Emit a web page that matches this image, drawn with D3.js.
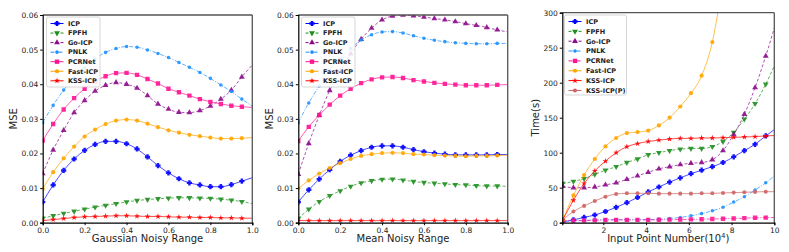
<!DOCTYPE html>
<html><head><meta charset="utf-8">
<script src="https://cdn.jsdelivr.net/npm/d3@7"></script>
<style>body{margin:0;background:#fff;} text{font-family:"DejaVu Sans",sans-serif;}</style>
</head><body><svg id="c" width="789" height="252"></svg>
<script>
// ---------- DATA ----------
const methods = ["ICP","FPFH","Go-ICP","PNLK","PCRNet","Fast-ICP","KSS-ICP"];
const methods3 = ["ICP","FPFH","Go-ICP","PNLK","PCRNet","Fast-ICP","KSS-ICP","KSS-ICP(P)"];
const xNoise = [0,0.05,0.1,0.15,0.2,0.25,0.3,0.35,0.4,0.45,0.5,0.55,0.6,0.65,0.7,0.75,0.8,0.85,0.9,0.95,1.0];
const xPoints = [0.1,0.6,1.1,1.6,2.1,2.6,3.1,3.6,4.1,4.6,5.1,5.6,6.1,6.6,7.1,7.6,8.1,8.6,9.1,9.6,10.0];
const ticksMSE = [0,0.01,0.02,0.03,0.04,0.05,0.06];
const ticksNoise = [0,0.2,0.4,0.6,0.8,1.0];
const ticksTime = [0,50,100,150,200,250,300];
const ticksPoints = [2,4,6,8,10];

// Gaussian noisy range (MSE)
const gICP = [0.006,0.0109,0.0151,0.0184,0.0209,0.0226,0.0235,0.0235,0.0228,0.0213,0.019,0.0165,0.0144,0.0127,0.0115,0.0109,0.0104,0.0104,0.011,0.012,0.013];
const gFPFH = [0.0013,0.002,0.0027,0.0033,0.0039,0.0045,0.005,0.0055,0.006,0.0064,0.0067,0.0069,0.0071,0.0072,0.0072,0.0071,0.007,0.0068,0.0065,0.0061,0.0055];
const gGoICP = [0.0142,0.021,0.0267,0.0318,0.0353,0.038,0.0397,0.0405,0.04,0.0389,0.0367,0.0343,0.0328,0.0319,0.0318,0.0324,0.0337,0.0357,0.0383,0.0421,0.0456];
const gPNLK = [0.0289,0.0339,0.0383,0.0418,0.0447,0.0473,0.0492,0.0503,0.0509,0.0507,0.0499,0.0489,0.0477,0.0463,0.0449,0.0434,0.0417,0.0398,0.0379,0.0357,0.0337];
const gPCRNet = [0.0237,0.0285,0.0327,0.036,0.0387,0.0408,0.0423,0.0432,0.0433,0.0427,0.0415,0.0402,0.0387,0.0377,0.0367,0.0357,0.0349,0.0343,0.0338,0.0335,0.0333];
const gFastICP = [0.0098,0.0146,0.0186,0.022,0.0249,0.0269,0.0285,0.0295,0.0298,0.0295,0.0286,0.0276,0.0267,0.026,0.0254,0.025,0.0246,0.0243,0.0243,0.0244,0.0246];
const gKSSICP = [0.0006,0.0009,0.0012,0.0015,0.0017,0.0018,0.0019,0.002,0.002,0.0019,0.0018,0.0018,0.0017,0.0016,0.0016,0.0015,0.0015,0.0014,0.0014,0.0013,0.0013];

// Mean noisy range (MSE)
const mICP = [0.006,0.0095,0.0126,0.0153,0.0177,0.0195,0.0208,0.0218,0.0222,0.0222,0.0218,0.0211,0.0205,0.0201,0.0198,0.0196,0.0196,0.0196,0.0196,0.0197,0.0197];
const mFPFH = [0.0012,0.0039,0.0061,0.0078,0.0092,0.0105,0.0115,0.0121,0.0125,0.0126,0.0123,0.0119,0.0116,0.0114,0.0112,0.011,0.0109,0.0107,0.0106,0.0106,0.0105];
const mGoICP = [0.014,0.0229,0.031,0.0382,0.0437,0.0488,0.053,0.0562,0.0586,0.0597,0.06,0.0598,0.0594,0.059,0.0586,0.0581,0.0575,0.057,0.0564,0.0557,0.0551];
const mPNLK = [0.0289,0.0346,0.0395,0.044,0.0475,0.0503,0.0528,0.0543,0.0551,0.0552,0.0548,0.054,0.0533,0.0527,0.0523,0.052,0.0518,0.0517,0.0517,0.0518,0.0518];
const mPCRNet = [0.0236,0.0277,0.0311,0.0341,0.0367,0.0387,0.0403,0.0414,0.042,0.0421,0.0418,0.0412,0.0408,0.0404,0.0401,0.0399,0.0397,0.0397,0.0397,0.0398,0.0399];
const mFastICP = [0.0099,0.0122,0.0142,0.0158,0.0172,0.0184,0.0193,0.0198,0.0201,0.0202,0.0201,0.0198,0.0197,0.0195,0.0194,0.0193,0.0192,0.0193,0.0193,0.0194,0.0195];
const mKSSICP = [0.0006,0.0006,0.0006,0.0006,0.0006,0.0006,0.0006,0.0006,0.0006,0.0006,0.0006,0.0006,0.0006,0.0006,0.0006,0.0006,0.0006,0.0006,0.0006,0.0006,0.0006];

// Input point number (time, s)
const tICP = [1,4,7.6,11,16,22,28.6,36,44,51,58,64,70,75,80,86,94,103,112,124,133];
const tFPFH = [56,59,63,69,75,80,86,91,97,100,103,105,106,106,108.6,116,129,148,170,198,224];
const tGoICP = [52,50,50,51,54,57,62,67,72,77,80,83,85,86,90,103,126,155,193,238,278];
const tPNLK = [1,2.5,3.3,4,4.3,4.3,4.3,4.5,4.5,5,6,7.5,10,13,17,22,29.5,37,46.7,57,67];
const tPCRNet = [3,3,3,3.3,3.8,4,4,4,4,4.2,4.3,4.5,4.8,5,5.3,5.7,6,6.5,7,7.2,7.5];
const tFastICP = [4,39,68,91,109,121,128,129.5,131.5,139,150,166,185,210,258,345,440,550,680,830,960];
const tKSSICP = [4,32,56,74,88,100,108.6,113,116,118,119.5,120.5,120.5,121,121,121.4,122,122.4,123,124,124.5];
const tKSSICPP = [4,16,24,31,37,41,42,42,42,41.5,41.5,41.5,41.5,42,42,42.5,43,43.5,44,44.3,44.3];

// ---------- STYLES ----------
const plusP = "M-1.2,-2.6L1.2,-2.6L1.2,-1.2L2.6,-1.2L2.6,1.2L1.2,1.2L1.2,2.6L-1.2,2.6L-1.2,1.2L-2.6,1.2L-2.6,-1.2L-1.2,-1.2Z";
const styles = {
  "ICP":       {color:"#0000ff", dash:null,      sym:"plusP",           size:0},
  "FPFH":      {color:"#1f8f1f", dash:"3,2",     sym:"tridown",         size:15},
  "Go-ICP":    {color:"#8b0b8b", dash:"3,2",     sym:d3.symbolTriangle, size:15},
  "PNLK":      {color:"#1e90ff", dash:"4,1.5,1,1.5", sym:d3.symbolCircle, size:10},
  "PCRNet":    {color:"#ff1493", dash:null,      sym:d3.symbolSquare,   size:19},
  "Fast-ICP":  {color:"#ffa500", dash:null,      sym:d3.symbolCircle,   size:14},
  "KSS-ICP":   {color:"#ff0000", dash:null,      sym:d3.symbolStar,     size:11},
  "KSS-ICP(P)":{color:"#cd6464", dash:null,      sym:d3.symbolCircle,   size:13}
};

const svg = d3.select("#c");

function symPath(s){
  if(s.sym==="plusP") return plusP;
  if(s.sym==="tridown") return d3.symbol(d3.symbolTriangle, s.size)();
  return d3.symbol(s.sym, s.size)();
}

function panel(cfg){
  const x = d3.scaleLinear().domain(cfg.xdom).range([cfg.x0,cfg.x1]);
  const y = d3.scaleLinear().domain(cfg.ydom).range([cfg.y1,cfg.y0]);
  const g = svg.append("g");
  const cid = "clip"+cfg.id;
  svg.append("clipPath").attr("id",cid).append("rect")
     .attr("x",cfg.x0).attr("y",cfg.y0).attr("width",cfg.x1-cfg.x0).attr("height",cfg.y1-cfg.y0);
  const pg = g.append("g").attr("clip-path",`url(#${cid})`);
  cfg.series.forEach(([name,vals])=>{
    const s = styles[name];
    const dash = (cfg.dashOverride && cfg.dashOverride[name]!==undefined) ? cfg.dashOverride[name] : s.dash;
    const pts = cfg.xs.map((xv,i)=>[xv,vals[i]]);
    pg.append("path").datum(pts)
      .attr("d", d3.line().x(d=>x(d[0])).y(d=>y(d[1])).curve(d3.curveMonotoneX))
      .attr("fill","none").attr("stroke",s.color).attr("stroke-width",1)
      .attr("stroke-opacity",0.7).attr("stroke-dasharray",dash);
    pg.selectAll(null).data(pts.slice(0,pts.length-1)).enter().append("path")
      .attr("d",symPath(s))
      .attr("transform",d=>`translate(${x(d[0])},${y(d[1])})${s.sym==="tridown"?" rotate(180)":""}`)
      .attr("fill",s.color).attr("fill-opacity",0.9);
  });
  // frame
  g.append("line").attr("x1",cfg.x0).attr("x2",cfg.x1).attr("y1",cfg.y0).attr("y2",cfg.y0).attr("stroke","#555").attr("stroke-width",1.3);
  g.append("line").attr("x1",cfg.x1).attr("x2",cfg.x1).attr("y1",cfg.y0).attr("y2",cfg.y1).attr("stroke","#555").attr("stroke-width",1.3);
  // axes
  const ax = g.append("g").attr("transform",`translate(0,${cfg.y1})`)
    .call(d3.axisBottom(x).tickValues(cfg.xticks).tickFormat(cfg.xfmt).tickSize(2.5).tickPadding(2));
  const ay = g.append("g").attr("transform",`translate(${cfg.x0},0)`)
    .call(d3.axisLeft(y).tickValues(cfg.yticks).tickFormat(cfg.yfmt).tickSize(2.5).tickPadding(2));
  [ax,ay].forEach(a=>{
    a.select(".domain").attr("stroke","#000").attr("stroke-width",1.2);
    a.selectAll(".tick line").attr("stroke","#000");
    a.selectAll("text").attr("font-size","7.5px").attr("fill","#222").attr("font-family","DejaVu Sans");
  });
  // axis labels
  const xl = g.append("text").attr("x",(cfg.x0+cfg.x1)/2).attr("y",242)
    .attr("text-anchor","middle").attr("font-size","10px").attr("fill","#222");
  if(cfg.xsup){
    xl.append("tspan").text(cfg.xlabel);
    xl.append("tspan").text(cfg.xsup).attr("font-size","7px").attr("dy","-4");
    xl.append("tspan").text(")").attr("dy","4");
  } else xl.text(cfg.xlabel);
  g.append("text").attr("transform",`translate(${cfg.ylx},${(cfg.y0+cfg.y1)/2}) rotate(-90)`)
    .attr("text-anchor","middle").attr("font-size","10px").attr("fill","#222").text(cfg.ylabel);
  // legend
  const L = cfg.legend;
  const lg = g.append("g");
  lg.append("rect").attr("x",L.x).attr("y",L.y).attr("width",L.w).attr("height",L.h)
    .attr("rx",2).attr("fill","#fff").attr("fill-opacity",0.85).attr("stroke","#ccc").attr("stroke-width",0.8);
  cfg.series.forEach(([name],i)=>{
    const s = styles[name];
    const dash = (cfg.dashOverride && cfg.dashOverride[name]!==undefined) ? cfg.dashOverride[name] : s.dash;
    const yy = L.y + 6.5 + i*L.step;
    lg.append("line").attr("x1",L.x+4).attr("x2",L.x+17).attr("y1",yy).attr("y2",yy)
      .attr("stroke",s.color).attr("stroke-width",1).attr("stroke-dasharray",dash);
    lg.append("path").attr("d",symPath(s))
      .attr("transform",`translate(${L.x+10.5},${yy})${s.sym==="tridown"?" rotate(180)":""}`).attr("fill",s.color);
    lg.append("text").attr("x",L.x+21.5).attr("y",yy+2.3).attr("font-size","6.5px")
      .attr("font-weight","bold").attr("fill","#222").text(name);
  });
}

panel({id:1, x0:42.7, x1:252.3, y0:15, y1:222.7, xdom:[0,1], ydom:[0,0.06],
  xs:xNoise, xticks:ticksNoise, yticks:ticksMSE, xfmt:d3.format(".1f"), yfmt:d3.format(".2f"),
  xlabel:"Gaussian Noisy Range", ylabel:"MSE", ylx:17,
  series:[["ICP",gICP],["FPFH",gFPFH],["Go-ICP",gGoICP],["PNLK",gPNLK],["PCRNet",gPCRNet],["Fast-ICP",gFastICP],["KSS-ICP",gKSSICP]],
  legend:{x:46.5, y:17, w:53.5, h:70, step:9.55}});

panel({id:2, x0:298.3, x1:507.7, y0:15, y1:222.7, xdom:[0,1], ydom:[0,0.06],
  xs:xNoise, xticks:ticksNoise, yticks:ticksMSE, xfmt:d3.format(".1f"), yfmt:d3.format(".2f"),
  xlabel:"Mean Noisy Range", ylabel:"MSE", ylx:273,
  series:[["ICP",mICP],["FPFH",mFPFH],["Go-ICP",mGoICP],["PNLK",mPNLK],["PCRNet",mPCRNet],["Fast-ICP",mFastICP],["KSS-ICP",mKSSICP]],
  legend:{x:301.5, y:17, w:53.5, h:70, step:9.55}});

panel({id:3, x0:562.3, x1:774.3, y0:12.7, y1:222.7, xdom:[0.08,10], ydom:[0,300],
  xs:xPoints, xticks:ticksPoints, yticks:ticksTime, xfmt:d3.format("d"), yfmt:d3.format("d"),
  xlabel:"Input Point Number(10", xsup:"4", ylabel:"Time(s)", ylx:539,
  dashOverride:{"PCRNet":"4,1.5,1,1.5"},
  series:[["ICP",tICP],["FPFH",tFPFH],["Go-ICP",tGoICP],["PNLK",tPNLK],["PCRNet",tPCRNet],["Fast-ICP",tFastICP],["KSS-ICP",tKSSICP],["KSS-ICP(P)",tKSSICPP]],
  legend:{x:564.5, y:15, w:62, h:80, step:9.85}});
</script></body></html>
